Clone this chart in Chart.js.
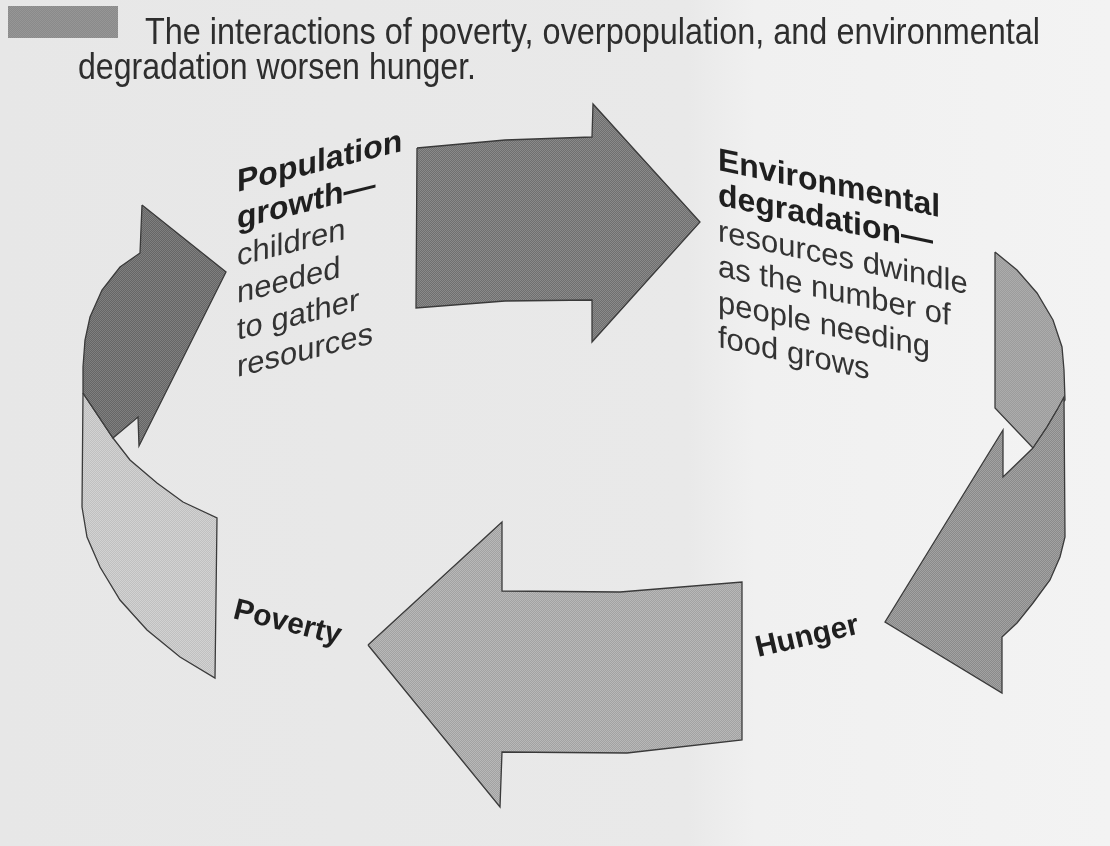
<!DOCTYPE html>
<html>
<head>
<meta charset="utf-8">
<script src="https://cdn.jsdelivr.net/npm/chart.js@4.4.1/dist/chart.umd.min.js"></script>
<style>
  html, body { margin: 0; padding: 0; }
  body {
    width: 1110px; height: 846px; overflow: hidden; position: relative;
    background: linear-gradient(90deg, #e7e7e7 0%, #e9e9e9 62%, #f0f0f0 68%, #f3f3f3 100%);
  }
  #c, #labels { position: absolute; left: 0; top: 0; }
  .b { font-family: 'Liberation Sans', Arial, sans-serif; font-weight: bold; font-size: 32px; fill: #1f1f1f; }
  .r { font-family: 'Liberation Sans', Arial, sans-serif; font-size: 31px; fill: #333; }
  .t { font-family: 'Liberation Sans', Arial, sans-serif; font-size: 37px; fill: #2e2e2e; }
</style>
</head>
<body>
<canvas id="c" width="1110" height="846"></canvas>
<svg id="labels" width="1110" height="846" xmlns="http://www.w3.org/2000/svg">
  <text class="t" x="145" y="44" textLength="895" lengthAdjust="spacingAndGlyphs">The interactions of poverty, overpopulation, and environmental</text>
  <text class="t" x="78" y="79" textLength="398" lengthAdjust="spacingAndGlyphs">degradation worsen hunger.</text>

  <g transform="translate(237,192) skewY(-14)">
    <text class="b" x="0" y="0">Population</text>
    <text class="b" x="0" y="37">growth—</text>
    <text class="r" x="0" y="74">children</text>
    <text class="r" x="0" y="111">needed</text>
    <text class="r" x="0" y="148">to gather</text>
    <text class="r" x="0" y="185">resources</text>
  </g>

  <g transform="translate(718,170) skewY(12)">
    <text class="b" x="0" y="0">Environmental</text>
    <text class="b" x="0" y="35">degradation—</text>
    <text class="r" x="0" y="71">resources dwindle</text>
    <text class="r" x="0" y="106">as the number of</text>
    <text class="r" x="0" y="142">people needing</text>
    <text class="r" x="0" y="177">food grows</text>
  </g>

  <g transform="translate(232,618) rotate(14)">
    <text class="b" x="0" y="0" style="font-size:30px">Poverty</text>
  </g>
  <g transform="translate(758,657) rotate(-13)">
    <text class="b" x="0" y="0" style="font-size:30px">Hunger</text>
  </g>
</svg>

<script>
// ---- shape outlines (x, y in picture pixels) ----
const cornerBox = [[8,6],[118,6],[118,38],[8,38],[8,6]];

const topArrow = [[417,148],[505,140],[592,137],[593,104],[700,222],[592,342],
                  [592,300],[505,301],[416,308],[417,148]];

const bottomArrow = [[368,645],[502,522],[502,591],[620,592],[742,582],[742,740],
                     [627,753],[502,752],[500,807],[368,645]];

const popArrow = [[142,205],[226,272],[139,446],[138,417],[113,438],[83,393],
                  [83,367],[85,340],[90,317],[102,290],[120,267],[140,253],[142,205]];

const povertyBand = [[83,393],[113,438],[130,460],[157,483],[183,502],[217,518],
                     [215,678],[180,657],[147,630],[120,600],[100,567],[87,537],
                     [82,507],[83,393]];

const envBand = [[995,252],[1017,270],[1037,293],[1053,320],[1062,347],[1064,370],
                 [1065,400],[1057,410],[1047,427],[1033,448],[995,408],[995,252]];

const hungerArrow = [[1033,448],[1047,427],[1057,410],[1064,397],[1065,537],
                     [1060,557],[1050,580],[1033,603],[1017,623],[1002,637],
                     [1002,693],[885,622],[1003,430],[1003,477],[1033,448]];

// ---- styling ----
const ctx = document.getElementById('c').getContext('2d');
function pattern(a, b) {
  const p = document.createElement('canvas');
  p.width = p.height = 4;
  const g = p.getContext('2d');
  g.fillStyle = a; g.fillRect(0, 0, 4, 4);
  g.fillStyle = b;
  for (let i = 0; i < 4; i++) for (let j = 0; j < 4; j++) if ((i + j) % 2 === 0) g.fillRect(i, j, 1, 1);
  return ctx.createPattern(p, 'repeat');
}

function shape(points, fillStyle, order, border) {
  return {
    data: points.map(([x, y]) => ({x, y})),
    showLine: true,
    fill: 'shape',
    backgroundColor: fillStyle,
    borderColor: border === false ? 'rgba(0,0,0,0)' : '#3a3a3a',
    borderWidth: border === false ? 0 : 1.3,
    pointRadius: 0,
    tension: 0,
    order: order
  };
}

new Chart(ctx, {
  type: 'scatter',
  data: {
    datasets: [
      shape(cornerBox,   pattern('#8a8a8a', '#969696'), 9, false),
      shape(topArrow,    pattern('#6f6f6f', '#8a8a8a'), 5),
      shape(bottomArrow, pattern('#a2a2a2', '#b8b8b8'), 5),
      shape(povertyBand, pattern('#c0c0c0', '#d2d2d2'), 6),
      shape(popArrow,    pattern('#666666', '#7f7f7f'), 1),
      shape(envBand,     pattern('#9c9c9c', '#acacac'), 6),
      shape(hungerArrow, pattern('#8a8a8a', '#a2a2a2'), 1)
    ]
  },
  options: {
    responsive: false,
    animation: false,
    events: [],
    layout: { padding: 0 },
    plugins: { legend: { display: false }, tooltip: { enabled: false } },
    scales: {
      x: { type: 'linear', min: 0, max: 1110, display: false },
      y: { type: 'linear', min: 0, max: 846, reverse: true, display: false }
    }
  }
});
</script>
</body>
</html>
